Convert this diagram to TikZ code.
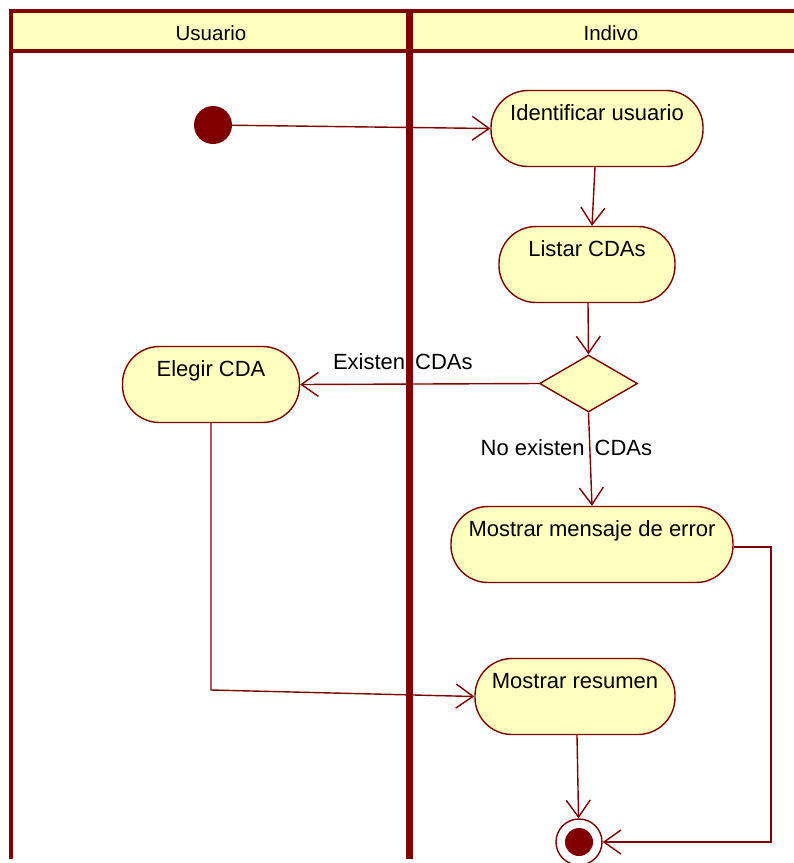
\documentclass[tikz,border=0pt]{standalone}
\usepackage{fontspec}
\setmainfont{Liberation Sans}
\usetikzlibrary{arrows.meta,shapes.geometric}
\definecolor{umlline}{HTML}{800000}
\definecolor{umlfill}{HTML}{FFFFC0}
\tikzset{
  lane/.style={draw=umlline, line width=4pt},
  activity/.style={draw=umlline, fill=umlfill, line width=1.4pt,
    rectangle, rounded corners=37pt, inner xsep=0pt, inner ysep=0pt,
    minimum height=76pt, text height=30pt, text depth=46pt,
    font=\fontsize{22}{26}\selectfont},
  decision/.style={draw=umlline, fill=umlfill, line width=1.4pt,
    diamond, inner sep=0pt, minimum width=98pt, minimum height=57pt},
  startnode/.style={circle, fill=umlline, minimum size=38pt, inner sep=0pt},
  endnode/.style={circle, draw=umlline, fill=white, line width=1.4pt,
    minimum size=46pt, inner sep=0pt},
  flow/.style={draw=umlline, line width=1.4pt,
    -{Straight Barb[length=17pt,width=24pt,line width=1.4pt]}},
  guard/.style={font=\fontsize{22}{26}\selectfont, inner sep=0pt},
  lanetitle/.style={font=\fontsize{20.5}{24}\selectfont, inner sep=0pt},
}
\begin{document}
\begin{tikzpicture}[x=1pt, y=-1pt]
  \useasboundingbox (0,0) rectangle (794,863);

  % swimlanes
  \fill[umlfill] (11,11) rectangle (794,51);
  \draw[lane] (9,11) -- (794,11);
  \draw[lane] (9,51) -- (794,51);
  \draw[lane] (11,9) -- (11,859);
  \draw[draw=umlline, line width=7pt] (409.5,9) -- (409.5,859);
  \node[lanetitle] (laneA) at (211,33) {Usuario};
  \node[lanetitle] (laneB) at (611,33) {Indivo};

  % nodes
  \node[startnode] (init) at (213,125) {};
  \node[activity, minimum width=212pt] (ident) at (597,128.5) {Identificar usuario};
  \node[activity, minimum width=176pt] (listar) at (587,264.5) {Listar CDAs};
  \node[decision] (dec) at (588.5,383.5) {};
  \node[activity, minimum width=177pt] (elegir) at (211,384.5) {Elegir CDA};
  \node[activity, minimum width=282pt] (error) at (592,544.5) {Mostrar mensaje de error};
  \node[activity, minimum width=200pt] (resumen) at (575,696.5) {Mostrar resumen};
  \node[endnode] (final) at (579,842) {};
  \fill[umlline] (final.center) circle (14pt);
  \coordinate (bend) at (211,690);
  \coordinate (corner) at (771,842);

  % flows
  \draw[flow] (init) -- (ident.west);
  \draw[flow] ([xshift=-2pt]ident.south) -- ([xshift=5pt]listar.north);
  \draw[flow] ([xshift=1pt]listar.south) -- (dec.north);
  \draw[flow] (dec.west) -- (elegir.east)
    node[guard, pos=0.57, above=14pt] (g1) {Existen\hspace{10pt}CDAs};
  \draw[flow] (dec.south) -- (error.north)
    node[guard, pos=0.38, left=-63pt] (g2) {No existen\hspace{10pt}CDAs};
  \draw[flow] (elegir.south) -- (bend) -- (resumen.west);
  \draw[flow] ([xshift=2pt]resumen.south) -- (final);
  \draw[flow] ([yshift=-2.5pt]error.east) -| (corner) -- (final);
\end{tikzpicture}
\end{document}
